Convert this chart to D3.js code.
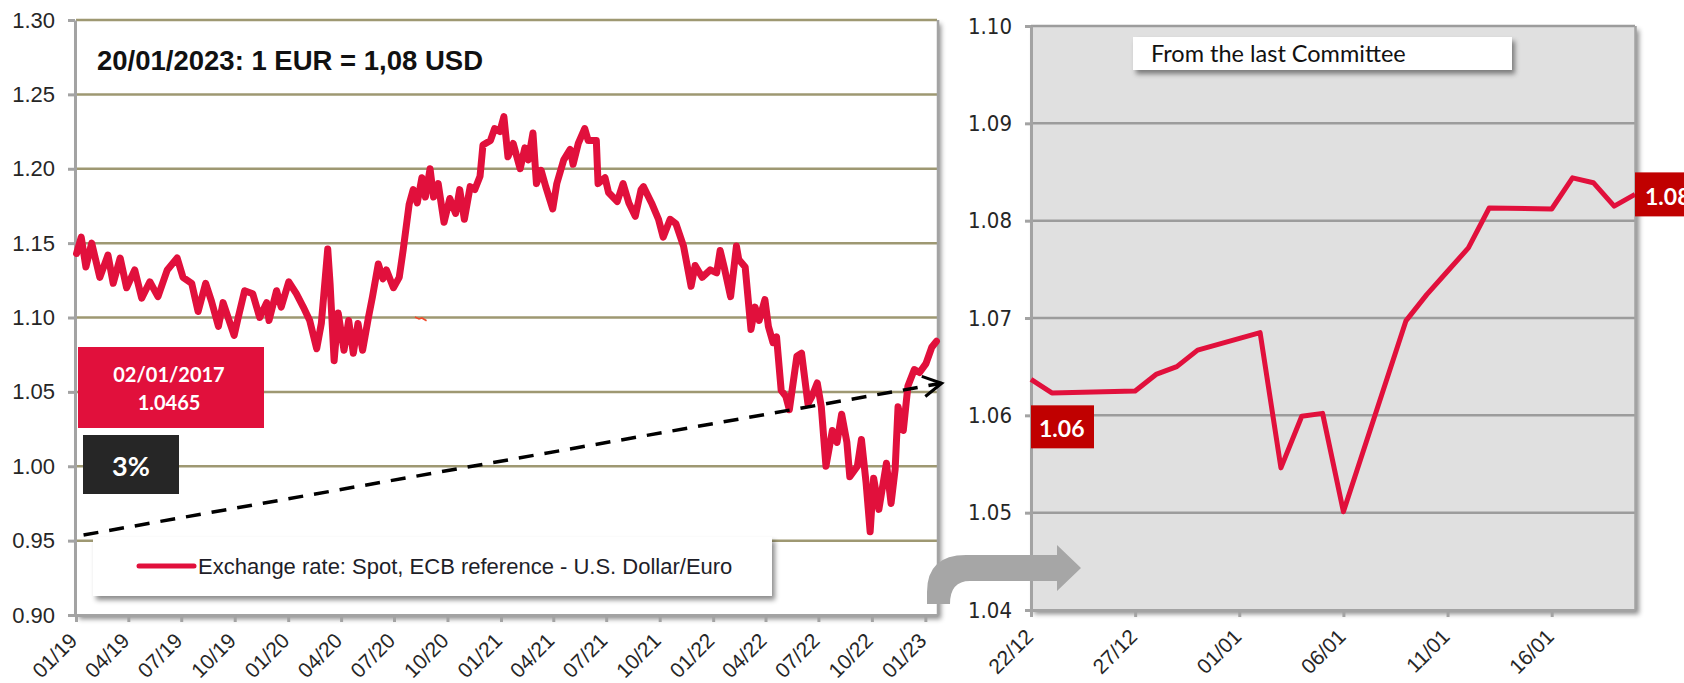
<!DOCTYPE html>
<html lang="en">
<head>
  <title>EUR/USD exchange rate</title>
  <meta http-equiv="content-type" content="text/html; charset=utf-8" />
  <script src="https://cdn.jsdelivr.net/npm/d3@7/dist/d3.min.js"></script>
<style>

body {
	margin:0px;
	background:#fff;
}

svg {
	display:block;
	font-family: 'Liberation Sans', Arial, sans-serif;
}

.axis text {
	fill:#262626;
	font-size:22px;
}

.axis.dates text {
	font-size:21px;
}

.axis line,
.axis path {
	stroke:#a3a3a3;
	stroke-width:3px;
	fill:none;
}

.narrow text {
	font-family:'Liberation Sans Narrow', 'DejaVu Sans Condensed', sans-serif;
}

.box text {
	font-family:Lato, 'Open Sans', sans-serif;
	font-weight:bold;
	fill:#fff;
}

</style>
</head>
<body>
	<svg id="chart" width="1684" height="683"></svg>

<script>

// ECB reference rate, USD per EUR, 2019 - 2023
var longDates = ["2019-01-02","2019-01-10","2019-01-18","2019-01-28","2019-02-11","2019-02-25","2019-03-06","2019-03-18",
	"2019-03-29","2019-04-12","2019-04-24","2019-05-08","2019-05-22","2019-06-07","2019-06-24","2019-07-04","2019-07-19",
	"2019-07-30","2019-08-12","2019-08-22","2019-09-03","2019-09-11","2019-09-30","2019-10-07","2019-10-18","2019-11-01",
	"2019-11-13","2019-11-25","2019-11-29","2019-12-12","2019-12-20","2020-01-02","2020-01-15","2020-01-27","2020-02-07",
	"2020-02-19","2020-02-27","2020-03-09","2020-03-13","2020-03-20","2020-03-27","2020-04-06","2020-04-14","2020-04-22",
	"2020-04-30","2020-05-08","2020-05-18","2020-05-25","2020-06-04","2020-06-12","2020-06-18","2020-06-30","2020-07-10",
	"2020-07-17","2020-07-27","2020-08-03","2020-08-10","2020-08-18","2020-08-24","2020-09-01","2020-09-07","2020-09-15",
	"2020-09-25","2020-10-05","2020-10-15","2020-10-22","2020-10-30","2020-11-09","2020-11-17","2020-11-26","2020-12-01",
	"2020-12-14","2020-12-21","2020-12-30","2021-01-06","2021-01-13","2021-01-22","2021-02-03","2021-02-11","2021-02-17",
	"2021-02-25","2021-03-03","2021-03-11","2021-03-19","2021-03-31","2021-04-07","2021-04-19","2021-04-30","2021-05-05",
	"2021-05-14","2021-05-25","2021-05-31","2021-06-14","2021-06-17","2021-06-29","2021-07-05","2021-07-20","2021-07-30",
	"2021-08-09","2021-08-20","2021-08-30","2021-09-03","2021-09-17","2021-09-29","2021-10-07","2021-10-19","2021-10-29",
	"2021-11-11","2021-11-24","2021-12-01","2021-12-13","2021-12-27","2022-01-07","2022-01-13","2022-01-21","2022-01-31",
	"2022-02-10","2022-02-14","2022-02-25","2022-03-07","2022-03-14","2022-03-21","2022-03-31","2022-04-06","2022-04-14",
	"2022-04-20","2022-04-28","2022-05-06","2022-05-12","2022-05-25","2022-06-02","2022-06-13","2022-06-20","2022-06-29",
	"2022-07-06","2022-07-14","2022-07-25","2022-08-02","2022-08-10","2022-08-19","2022-08-24","2022-09-06","2022-09-13",
	"2022-09-21","2022-09-28","2022-10-04","2022-10-13","2022-10-26","2022-11-03","2022-11-10","2022-11-15","2022-11-24",
	"2022-12-02","2022-12-13","2022-12-22","2023-01-02","2023-01-12","2023-01-20"];
var longValues = [1.143,1.154,1.134,1.150,1.127,1.142,1.123,1.140,
	1.120,1.132,1.113,1.124,1.114,1.132,1.140,1.127,1.123,
	1.104,1.123,1.111,1.094,1.110,1.088,1.100,1.118,1.116,
	1.100,1.110,1.098,1.118,1.107,1.124,1.116,1.107,1.098,
	1.079,1.096,1.146,1.123,1.071,1.103,1.078,1.098,1.076,
	1.096,1.078,1.100,1.114,1.136,1.126,1.132,1.120,1.127,
	1.146,1.176,1.186,1.177,1.194,1.181,1.200,1.181,1.190,
	1.164,1.180,1.170,1.186,1.166,1.188,1.186,1.195,1.216,
	1.219,1.227,1.225,1.235,1.208,1.217,1.200,1.214,1.206,
	1.224,1.190,1.199,1.188,1.173,1.190,1.206,1.213,1.203,
	1.217,1.227,1.219,1.219,1.190,1.194,1.184,1.178,1.190,
	1.177,1.168,1.186,1.188,1.177,1.166,1.154,1.166,1.163,
	1.148,1.121,1.135,1.127,1.132,1.130,1.145,1.132,1.114,
	1.148,1.139,1.134,1.092,1.107,1.098,1.112,1.094,1.083,
	1.087,1.051,1.047,1.038,1.074,1.076,1.042,1.047,1.056,
	1.040,1.000,1.024,1.016,1.035,1.016,0.993,1.000,1.018,
	0.989,0.956,0.992,0.971,1.002,0.975,0.998,1.040,1.024,
	1.054,1.065,1.063,1.069,1.080,1.084];

// small stray mark left in the original chart
var strayDates = ["2020-08-06","2020-08-13","2020-08-18","2020-08-26"];
var strayValues = [1.1003,1.0990,1.0997,1.0978];

// dashed trend arrow
var trendDates = ["2019-01-14","2023-01-29"];
var trendValues = [0.9538,1.0558];

// since the last Committee
var shortDates = ["2022-12-22","2022-12-23","2022-12-27","2022-12-28","2022-12-29","2022-12-30","2023-01-02",
	"2023-01-03","2023-01-04","2023-01-05","2023-01-06","2023-01-09","2023-01-10","2023-01-11","2023-01-12",
	"2023-01-13","2023-01-16","2023-01-17","2023-01-18","2023-01-19","2023-01-20"];
var shortValues = [1.0637,1.0623,1.0625,1.0642,1.0650,1.0667,1.0685,
	1.0546,1.0599,1.0602,1.0501,1.0697,1.0724,1.0748,1.0772,
	1.0813,1.0812,1.0844,1.0839,1.0815,1.0827];

var leftYTicks = [0.90,0.95,1.00,1.05,1.10,1.15,1.20,1.25,1.30];
var rightYTicks = [1.04,1.05,1.06,1.07,1.08,1.09,1.10];
var rightXTicks = ["2022-12-22","2022-12-27","2023-01-01","2023-01-06","2023-01-11","2023-01-16"];

var titleText = "20/01/2023: 1 EUR = 1,08 USD";
var legendText = "Exchange rate: Spot, ECB reference - U.S. Dollar/Euro";
var baseLabel = ["02/01/2017", "1.0465"];
var changeLabel = "3%";
var committeeText = "From the last Committee";

var parseDate = d3.timeParse("%Y-%m-%d");
var red = "#e1103c";

function drawGraphic() {

	var svg = d3.select("#chart");

	var defs = svg.append("defs");
	defs.append("filter")
		.attr("id", "shadow")
		.attr("x", "-5%").attr("y", "-10%")
		.attr("width", "115%").attr("height", "140%")
		.append("feDropShadow")
		.attr("dx", 3).attr("dy", 4)
		.attr("stdDeviation", 2.5)
		.attr("flood-color", "#000")
		.attr("flood-opacity", 0.45);

	defs.append("marker")
		.attr("id", "head")
		.attr("viewBox", "0 0 12 12")
		.attr("refX", 10).attr("refY", 6)
		.attr("markerWidth", 7).attr("markerHeight", 7)
		.attr("markerUnits", "strokeWidth")
		.attr("orient", "auto")
		.append("path")
		.attr("d", "M1,1 L10,6 L1,11")
		.attr("fill", "none")
		.attr("stroke", "#000")
		.attr("stroke-width", 1.5);

	// ---------- left chart ----------
	var x = d3.scaleTime()
		.domain([parseDate("2019-01-01"), parseDate("2023-01-21")])
		.range([76, 937]);

	var y = d3.scaleLinear()
		.domain([0.90, 1.30])
		.range([615, 20]);

	svg.append("rect")
		.attr("x", 76).attr("y", 20)
		.attr("width", 862).attr("height", 595)
		.attr("fill", "#fff")
		.attr("filter", "url(#shadow)");

	svg.append("g").selectAll("line")
		.data(leftYTicks.slice(1))
		.enter().append("line")
		.attr("x1", 76).attr("x2", 937)
		.attr("y1", function(d) { return y(d); })
		.attr("y2", function(d) { return y(d); })
		.attr("stroke", "#9e9872")
		.attr("stroke-width", 2.5);

	svg.append("line")
		.attr("x1", 938).attr("x2", 938)
		.attr("y1", 20).attr("y2", 615)
		.attr("stroke", "#a3a3a3")
		.attr("stroke-width", 2.5);

	svg.append("g")
		.attr("class", "axis")
		.attr("transform", "translate(75,0)")
		.call(d3.axisLeft(y).tickValues(leftYTicks).tickSize(7).tickSizeOuter(0).tickPadding(13).tickFormat(d3.format(".2f")));

	var xAxis = svg.append("g")
		.attr("class", "axis dates")
		.attr("transform", "translate(0,615)")
		.call(d3.axisBottom(x).ticks(d3.timeMonth.every(3)).tickSize(7).tickSizeOuter(0).tickFormat(d3.timeFormat("%m/%y")));

	xAxis.selectAll("text")
		.attr("text-anchor", "end")
		.attr("x", 2).attr("y", 27).attr("dy", 0)
		.attr("transform", "rotate(-45 2 27)");

	var line = d3.line()
		.x(function(d) { return x(d.date); })
		.y(function(d) { return y(d.value); });

	var longData = longDates.map(function(d, i) { return {date: parseDate(d), value: longValues[i]}; });
	var strayData = strayDates.map(function(d, i) { return {date: parseDate(d), value: strayValues[i]}; });
	var trendData = trendDates.map(function(d, i) { return {date: parseDate(d), value: trendValues[i]}; });

	svg.append("path")
		.datum(longData)
		.attr("d", line)
		.attr("fill", "none")
		.attr("stroke", red)
		.attr("stroke-width", 7)
		.attr("stroke-linejoin", "round")
		.attr("stroke-linecap", "round");

	svg.append("path")
		.datum(strayData)
		.attr("d", line)
		.attr("fill", "none")
		.attr("stroke", "#f04a2a")
		.attr("stroke-width", 1.6);

	svg.append("path")
		.datum(trendData)
		.attr("d", line)
		.attr("fill", "none")
		.attr("stroke", "#000")
		.attr("stroke-width", 3.5)
		.attr("stroke-dasharray", "15,11")
		.attr("marker-end", "url(#head)");

	svg.append("text")
		.attr("x", 97).attr("y", 70)
		.attr("font-size", "27.5px")
		.attr("font-weight", "bold")
		.attr("fill", "#111")
		.text(titleText);

	var base = svg.append("g").attr("class", "box");
	base.append("rect")
		.attr("x", 78).attr("y", 347)
		.attr("width", 186).attr("height", 81)
		.attr("fill", red);
	base.selectAll("text")
		.data(baseLabel)
		.enter().append("text")
		.attr("x", 169)
		.attr("y", function(d, i) { return 382 + i * 28; })
		.attr("text-anchor", "middle")
		.attr("font-size", "20px")
		.text(function(d) { return d; });

	var change = svg.append("g").attr("class", "box");
	change.append("rect")
		.attr("x", 83).attr("y", 435)
		.attr("width", 96).attr("height", 59)
		.attr("fill", "#262626");
	change.append("text")
		.attr("x", 131).attr("y", 476)
		.attr("text-anchor", "middle")
		.attr("font-size", "27px")
		.text(changeLabel);

	var legend = svg.append("g");
	legend.append("rect")
		.attr("x", 93).attr("y", 537)
		.attr("width", 679).attr("height", 59)
		.attr("fill", "#fff")
		.attr("filter", "url(#shadow)");
	legend.append("line")
		.attr("x1", 139).attr("x2", 194)
		.attr("y1", 566).attr("y2", 566)
		.attr("stroke", red)
		.attr("stroke-width", 5)
		.attr("stroke-linecap", "round");
	legend.append("text")
		.attr("x", 198).attr("y", 574)
		.attr("font-size", "22px")
		.attr("fill", "#1e1e28")
		.text(legendText);

	// ---------- right chart ----------
	var xR = d3.scaleTime()
		.domain([parseDate("2022-12-22"), parseDate("2023-01-20")])
		.range([1031, 1635]);

	var yR = d3.scaleLinear()
		.domain([1.04, 1.10])
		.range([610, 26]);

	svg.append("rect")
		.attr("x", 1031).attr("y", 26)
		.attr("width", 605).attr("height", 584)
		.attr("fill", "#e0e0e0")
		.attr("filter", "url(#shadow)");

	svg.append("g").selectAll("line")
		.data(rightYTicks.slice(1))
		.enter().append("line")
		.attr("x1", 1031).attr("x2", 1635)
		.attr("y1", function(d) { return yR(d); })
		.attr("y2", function(d) { return yR(d); })
		.attr("stroke", "#9c9c9c")
		.attr("stroke-width", 2.5);

	svg.append("line")
		.attr("x1", 1635.5).attr("x2", 1635.5)
		.attr("y1", 26).attr("y2", 610)
		.attr("stroke", "#a3a3a3")
		.attr("stroke-width", 2.5);

	svg.append("g")
		.attr("class", "axis narrow")
		.attr("transform", "translate(1031,0)")
		.call(d3.axisLeft(yR).tickValues(rightYTicks).tickSize(6).tickSizeOuter(0).tickPadding(13).tickFormat(d3.format(".2f")));

	var xAxisR = svg.append("g")
		.attr("class", "axis dates")
		.attr("transform", "translate(0,610)")
		.call(d3.axisBottom(xR).tickValues(rightXTicks.map(parseDate)).tickSize(7).tickSizeOuter(0).tickFormat(d3.timeFormat("%d/%m")));

	xAxisR.selectAll("text")
		.attr("text-anchor", "end")
		.attr("x", 3).attr("y", 28).attr("dy", 0)
		.attr("transform", "rotate(-45 3 28)");

	var lineR = d3.line()
		.x(function(d) { return xR(d.date); })
		.y(function(d) { return yR(d.value); });

	var shortData = shortDates.map(function(d, i) { return {date: parseDate(d), value: shortValues[i]}; });

	svg.append("path")
		.datum(shortData)
		.attr("d", lineR)
		.attr("fill", "none")
		.attr("stroke", red)
		.attr("stroke-width", 5)
		.attr("stroke-linejoin", "round");

	var first = shortData[0],
		last = shortData[shortData.length - 1];

	var startBox = svg.append("g").attr("class", "box");
	startBox.append("rect")
		.attr("x", xR(first.date)).attr("y", yR(1.06) - 10)
		.attr("width", 63).attr("height", 43)
		.attr("fill", "#c00000");
	startBox.append("text")
		.attr("x", xR(first.date) + 8).attr("y", yR(1.06) + 22)
		.attr("font-size", "23px")
		.text(d3.format(".2f")(first.value));

	var endBox = svg.append("g").attr("class", "box");
	endBox.append("rect")
		.attr("x", xR(last.date)).attr("y", yR(last.value) - 22)
		.attr("width", 60).attr("height", 44)
		.attr("fill", "#c00000");
	endBox.append("text")
		.attr("x", xR(last.date) + 10).attr("y", yR(last.value) + 11)
		.attr("font-size", "23px")
		.text(d3.format(".2f")(last.value));

	var committee = svg.append("g");
	committee.append("rect")
		.attr("x", 1133).attr("y", 37)
		.attr("width", 379).attr("height", 33)
		.attr("fill", "#fff")
		.attr("filter", "url(#shadow)");
	committee.append("text")
		.attr("x", 1151).attr("y", 62)
		.attr("font-family", "Lato, sans-serif")
		.attr("font-size", "23.5px")
		.attr("fill", "#111")
		.text(committeeText);

	// grey bent arrow linking the two panels
	svg.append("path")
		.attr("d", "M927,604 L927,592 Q927,555 966,555 L1057,555 L1057,545 L1081,568 L1057,591 L1057,581 L970,581 Q950,581 950,604 Z")
		.attr("fill", "#a6a6a6");
}

drawGraphic();

</script>
</body>
</html>
